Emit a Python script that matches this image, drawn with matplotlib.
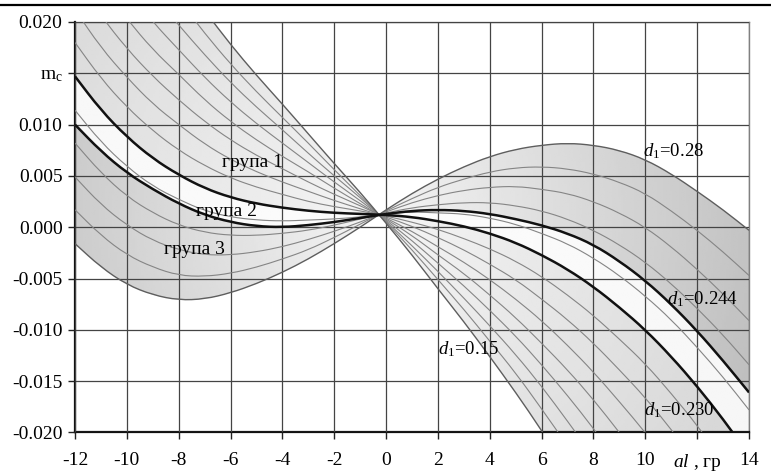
"""Familia de curvas m_c(al) para distintos d1, con las tres grupas sombreadas."""

import matplotlib.pyplot as plt
import numpy as np
from matplotlib.lines import Line2D
from matplotlib.path import Path
from matplotlib.patches import PathPatch

plt.rcParams['font.family'] = 'Liberation Serif'
plt.rcParams['mathtext.fontset'] = 'custom'
plt.rcParams['mathtext.rm'] = 'Liberation Serif'
plt.rcParams['mathtext.it'] = 'Liberation Serif:italic'

# valores, al = -12 ... 14 (paso 1)
al = [-12, -11, -10, -9, -8, -7, -6, -5, -4, -3, -2, -1, 0,
      1, 2, 3, 4, 5, 6, 7, 8, 9, 10, 11, 12, 13, 14]

m_015 = [0.0408, 0.0359, 0.0318, 0.0280, 0.0246, 0.0211, 0.0178, 0.0148, 0.0120, 0.0091, 0.0062, 0.0034, 0.0004,
         -0.0027, -0.0060, -0.0092, -0.0126, -0.0161, -0.0198, -0.0238, -0.0279, -0.0323, -0.0366, -0.0411, -0.0459, -0.0513, -0.0572]
m_016 = [0.0375, 0.0328, 0.0290, 0.0253, 0.0222, 0.0189, 0.0159, 0.0132, 0.0107, 0.0082, 0.0056, 0.0031, 0.0005,
         -0.0022, -0.0051, -0.0080, -0.0111, -0.0142, -0.0177, -0.0213, -0.0251, -0.0292, -0.0332, -0.0375, -0.0421, -0.0473, -0.0529]
m_017 = [0.0343, 0.0298, 0.0261, 0.0227, 0.0197, 0.0168, 0.0141, 0.0117, 0.0095, 0.0072, 0.0050, 0.0029, 0.0006,
         -0.0018, -0.0043, -0.0069, -0.0096, -0.0124, -0.0155, -0.0189, -0.0224, -0.0262, -0.0299, -0.0340, -0.0383, -0.0432, -0.0485]
m_018 = [0.0310, 0.0267, 0.0232, 0.0200, 0.0173, 0.0146, 0.0122, 0.0101, 0.0082, 0.0063, 0.0044, 0.0026, 0.0007,
         -0.0013, -0.0035, -0.0057, -0.0081, -0.0106, -0.0134, -0.0164, -0.0196, -0.0231, -0.0266, -0.0304, -0.0345, -0.0391, -0.0441]
m_019 = [0.0277, 0.0236, 0.0203, 0.0173, 0.0149, 0.0124, 0.0103, 0.0085, 0.0069, 0.0054, 0.0038, 0.0023, 0.0008,
         -0.0008, -0.0027, -0.0045, -0.0066, -0.0088, -0.0113, -0.0139, -0.0168, -0.0200, -0.0233, -0.0268, -0.0307, -0.0350, -0.0397]
m_020 = [0.0245, 0.0206, 0.0174, 0.0147, 0.0124, 0.0103, 0.0085, 0.0070, 0.0057, 0.0044, 0.0032, 0.0021, 0.0009,
         -0.0004, -0.0019, -0.0034, -0.0051, -0.0070, -0.0091, -0.0115, -0.0141, -0.0170, -0.0200, -0.0233, -0.0269, -0.0309, -0.0353]
m_021 = [0.0212, 0.0175, 0.0146, 0.0120, 0.0100, 0.0081, 0.0066, 0.0054, 0.0044, 0.0035, 0.0026, 0.0018, 0.0010,
         0.0001, -0.0010, -0.0022, -0.0036, -0.0051, -0.0070, -0.0090, -0.0113, -0.0139, -0.0166, -0.0197, -0.0231, -0.0269, -0.0310]
m_022 = [0.0180, 0.0145, 0.0117, 0.0094, 0.0075, 0.0060, 0.0048, 0.0039, 0.0032, 0.0025, 0.0020, 0.0016, 0.0011,
         0.0005, -0.0002, -0.0011, -0.0021, -0.0033, -0.0048, -0.0066, -0.0086, -0.0109, -0.0133, -0.0162, -0.0193, -0.0228, -0.0266]
m_023 = [0.0147, 0.0114, 0.0088, 0.0067, 0.0051, 0.0038, 0.0029, 0.0023, 0.0019, 0.0016, 0.0014, 0.0013, 0.0012,
         0.0010, 0.0006, 0.0001, -0.0006, -0.0015, -0.0027, -0.0041, -0.0058, -0.0078, -0.0100, -0.0126, -0.0155, -0.0187, -0.0222]
m_024 = [0.0114, 0.0083, 0.0059, 0.0040, 0.0027, 0.0016, 0.0010, 0.0007, 0.0006, 0.0007, 0.0008, 0.0010, 0.0013,
         0.0015, 0.0014, 0.0013, 0.0009, 0.0003, -0.0006, -0.0016, -0.0030, -0.0047, -0.0067, -0.0090, -0.0117, -0.0146, -0.0178]
m_0244 = [0.0100, 0.0074, 0.0053, 0.0037, 0.0023, 0.0012, 0.0005, 0.0001, 0.0000, 0.0002, 0.0005, 0.0009, 0.0013,
          0.0016, 0.0017, 0.0016, 0.0013, 0.0008, 0.0002, -0.0006, -0.0017, -0.0033, -0.0052, -0.0075, -0.0101, -0.0130, -0.0161]
m_025 = [0.0082, 0.0053, 0.0030, 0.0014, 0.0002, -0.0005, -0.0008, -0.0008, -0.0006, -0.0003, 0.0002, 0.0008, 0.0014,
         0.0019, 0.0022, 0.0024, 0.0024, 0.0021, 0.0016, 0.0008, -0.0003, -0.0017, -0.0034, -0.0055, -0.0079, -0.0105, -0.0134]
m_026 = [0.0049, 0.0022, 0.0002, -0.0013, -0.0022, -0.0027, -0.0027, -0.0024, -0.0019, -0.0012, -0.0004, 0.0005, 0.0015,
         0.0024, 0.0031, 0.0036, 0.0039, 0.0040, 0.0037, 0.0033, 0.0025, 0.0014, 0.0000, -0.0019, -0.0041, -0.0065, -0.0091]
m_027 = [0.0017, -0.0008, -0.0027, -0.0039, -0.0047, -0.0048, -0.0045, -0.0039, -0.0031, -0.0022, -0.0010, 0.0003, 0.0016,
         0.0028, 0.0039, 0.0047, 0.0054, 0.0058, 0.0059, 0.0057, 0.0052, 0.0044, 0.0033, 0.0016, -0.0003, -0.0024, -0.0047]
m_028 = [-0.0016, -0.0039, -0.0056, -0.0066, -0.0071, -0.0070, -0.0064, -0.0055, -0.0044, -0.0031, -0.0016, 0.0000, 0.0017,
         0.0033, 0.0047, 0.0059, 0.0069, 0.0076, 0.0080, 0.0082, 0.0080, 0.0075, 0.0066, 0.0052, 0.0035, 0.0017, -0.0003]

finas = [m_016, m_017, m_018, m_019, m_020, m_021, m_022, m_024, m_025, m_026, m_027]
gruesas = [m_023, m_0244]
bordes = [m_015, m_028]

y_ticks = [-0.020, -0.015, -0.010, -0.005, 0.000, 0.005, 0.010, 0.015, 0.020]
y_etiquetas = ['-0.020', '-0.015', '-0.010', '-0.005', '0.000', '0.005', '0.010', r'm$_\mathrm{c}$', '0.020']
x_ticks = [-12, -10, -8, -6, -4, -2, 0, 2, 4, 6, 8, 10, 12, 14]
x_etiquetas = ['-12', '-10', '-8', '-6', '-4', '-2', '0', '2', '4', '6', '8', '10', '$al$ , гр', '14']


def sombra(ax, y1, y2, claro, oscuro):
    """Rellena entre dos curvas con un degradé que oscurece lejos del nudo."""
    zona = ax.fill_between(al, y1, y2, facecolor='none', edgecolor='none')
    gx, gy = np.meshgrid(np.linspace(0, 1, 300), np.linspace(0, 1, 200))
    r = np.clip(np.hypot((gx - 0.448) * 674, (gy - 0.53) * 411) / 420, 0, 1)
    tono = claro - (claro - oscuro) * r
    img = ax.imshow(tono, extent=[-12, 14, -0.02, 0.02], origin='lower', aspect='auto',
                    cmap='gray', vmin=0, vmax=1, zorder=0.5)
    img.set_clip_path(zona.get_paths()[0], transform=ax.transData)


def curva_suave(ax, y, **estilo):
    """Dibuja la curva con tramos cuadráticos entre los puntos leídos."""
    pts = np.column_stack([al, y])
    medios = (pts[:-1] + pts[1:]) / 2
    verts = [pts[0], medios[0]]
    codes = [Path.MOVETO, Path.LINETO]
    for i in range(1, len(pts) - 1):
        verts += [pts[i], medios[i]]
        codes += [Path.CURVE3, Path.CURVE3]
    verts.append(pts[-1])
    codes.append(Path.LINETO)
    ax.add_patch(PathPatch(Path(verts, codes), fill=False, **estilo))


fig = plt.figure(figsize=(7.71, 4.75), dpi=100)
ax = fig.add_axes([0.0973, 0.0895, 0.8742, 0.8642])

sombra(ax, m_015, m_023, 0.96, 0.84)
sombra(ax, m_023, m_0244, 0.99, 0.965)
sombra(ax, m_0244, m_028, 0.96, 0.74)

for curva in finas:
    curva_suave(ax, curva, edgecolor='#858585', lw=0.8, zorder=3)
for curva in bordes:
    curva_suave(ax, curva, edgecolor='#5e5e5e', lw=1.0, zorder=3)
for curva in gruesas:
    curva_suave(ax, curva, edgecolor='#111111', lw=1.8, zorder=4)

ax.set_xlim(-12, 14)
ax.set_ylim(-0.020, 0.020)
ax.set_xticks(x_ticks)
ax.set_xticklabels(x_etiquetas)
ax.set_yticks(y_ticks)
ax.set_yticklabels(y_etiquetas)
ax.tick_params(direction='out', length=5, width=1, color='#222222', labelsize=14)
ax.tick_params(axis='x', pad=9)
ax.tick_params(axis='y', pad=4)
ax.set_axisbelow(False)
ax.grid(color='#444444', lw=0.9)

for lado in ['left', 'bottom']:
    ax.spines[lado].set_color('#111111')
    ax.spines[lado].set_linewidth(1.6)
for lado in ['top', 'right']:
    ax.spines[lado].set_color('#808080')
    ax.spines[lado].set_linewidth(1.0)

# rótulos
ax.text(-5.17, 0.0063, 'група 1', fontsize=14, ha='center', va='center', zorder=5)
ax.text(-6.14, 0.0015, 'група 2', fontsize=14, ha='center', va='center', zorder=5)
ax.text(-7.4, -0.0022, 'група 3', fontsize=14, ha='center', va='center', zorder=5)
ax.text(3.16, -0.0119, '$d_1$=0.15', fontsize=13.5, ha='center', va='center', zorder=5)
ax.text(11.1, 0.0074, '$d_1$=0.28', fontsize=13.5, ha='center', va='center', zorder=5)
ax.text(12.2, -0.0070, '$d_1$=0.244', fontsize=13.5, ha='center', va='center', zorder=5)
ax.text(11.3, -0.0178, '$d_1$=0.230', fontsize=13.5, ha='center', va='center', zorder=5)

fig.add_artist(Line2D([0, 1], [0.989, 0.989], color='black', lw=1.6, transform=fig.transFigure))

plt.savefig('out.png', dpi=100)
